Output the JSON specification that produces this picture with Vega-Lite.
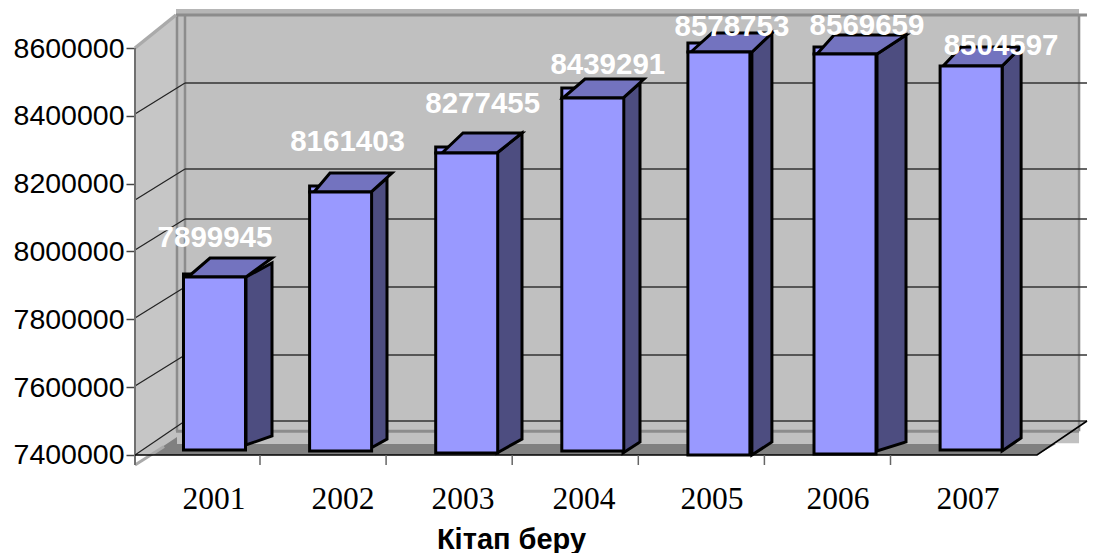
{
"$schema":"https://vega.github.io/schema/vega-lite/v6.json",
"width":1094,"height":553,"autosize":"none","padding":0,"background":"white",
"config":{"view":{"stroke":null}},
"datasets":{
"chrome":[{"part":"frame"}],
"grid":[
{"front":8405404,"back":8496804},
{"front":8151842,"back":8243242},
{"front":8004422,"back":8095822},
{"front":7803931,"back":7895331},
{"front":7603440,"back":7694840},
{"front":7400000,"back":7500245}],
"bars":[
{"year":2001,"value":7899945,"bar_top":7924815,"bar_bottom":7414742},
{"year":2002,"value":8161403,"bar_top":8175429,"bar_bottom":7411794},
{"year":2003,"value":8277455,"bar_top":8290417,"bar_bottom":7405897},
{"year":2004,"value":8439291,"bar_top":8452579,"bar_bottom":7411794},
{"year":2005,"value":8578753,"bar_top":8588205,"bar_bottom":7400000},
{"year":2006,"value":8569659,"bar_top":8582308,"bar_bottom":7402948},
{"year":2007,"value":8504597,"bar_top":8546928,"bar_bottom":7414742}]
},
"data":{"name":"bars"},
"layer":[
{"data":{"name":"chrome"},"mark":{"type":"rect","fill":"#c0c0c0"},"encoding":{
"x":{"datum":2000.6947,"type":"quantitative","scale":{"domain":[1999.299,2007.9746],"nice":false,"zero":false,"padding":0}},
"x2":{"datum":2007.856},
"y":{"datum":8697296,"type":"quantitative","scale":{"domain":[7111053,8741524],"nice":false,"zero":false,"padding":0}},
"y2":{"datum":7435000}}},
{"data":{"name":"chrome"},"mark":{"type":"rect","fill":"#b6b6b6"},"encoding":{
"x":{"datum":2000.6947,"type":"quantitative"},"x2":{"datum":2007.856},
"y":{"datum":8715000,"type":"quantitative"},"y2":{"datum":8697296}}},
{"data":{"name":"chrome"},"mark":{"type":"point","filled":true,"fill":"#c6c6c6","opacity":1,"size":4,"shape":"M0 0 L0 -407 L41 -441 L41 -25 Z"},"encoding":{
"x":{"datum":2000.3696,"type":"quantitative"},"y":{"datum":7400000,"type":"quantitative"}}},
{"data":{"name":"chrome"},"mark":{"type":"point","filled":true,"fill":"#c0c0c0","opacity":1,"size":4,"shape":"M0 0 L902 0 L952 -34 L50 -34 Z"},"encoding":{
"x":{"datum":2000.3696,"type":"quantitative"},"y":{"datum":7400000,"type":"quantitative"}}},
{"data":{"name":"chrome"},"mark":{"type":"point","filled":true,"fill":"#808080","opacity":1,"size":4,"shape":"M15 0 L42 -18 L42 -11 L921 -11 L902 0 Z"},"encoding":{
"x":{"datum":2000.3696,"type":"quantitative"},"y":{"datum":7400000,"type":"quantitative"}}},
{"data":{"name":"chrome"},"mark":{"type":"rule","color":"#8c8c8c","strokeWidth":3},"encoding":{
"x":{"datum":2000.6947,"type":"quantitative"},"x2":{"datum":2007.919},"y":{"datum":8697296,"type":"quantitative"}}},
{"data":{"name":"chrome"},"mark":{"type":"rule","color":"#8c8c8c","strokeWidth":3},"encoding":{
"x":{"datum":2000.6947,"type":"quantitative"},"x2":{"datum":2007.856},"y":{"datum":7470000,"type":"quantitative"}}},
{"data":{"name":"chrome"},"mark":{"type":"rule","color":"#8c8c8c","strokeWidth":2.5},"encoding":{
"x":{"datum":2000.7026,"type":"quantitative"},"y":{"datum":8697296,"type":"quantitative"},"y2":{"datum":7470000}}},
{"data":{"name":"chrome"},"mark":{"type":"rule","color":"#8c8c8c","strokeWidth":2.5},"encoding":{
"x":{"datum":2000.766,"type":"quantitative"},"y":{"datum":8697296,"type":"quantitative"},"y2":{"datum":7500245}}},
{"data":{"name":"chrome"},"mark":{"type":"rule","color":"#8c8c8c","strokeWidth":2.5},"encoding":{
"x":{"datum":2007.856,"type":"quantitative"},"y":{"datum":8697296,"type":"quantitative"},"y2":{"datum":7470000}}},
{"data":{"name":"grid"},"mark":{"type":"rule","color":"#333333","strokeWidth":1.5},"encoding":{
"x":{"datum":2000.766,"type":"quantitative"},"x2":{"datum":2007.919},"y":{"field":"back","type":"quantitative"}}},
{"data":{"name":"grid"},"mark":{"type":"rule","color":"#222222","strokeWidth":1.2},"encoding":{
"x":{"datum":2000.3696,"type":"quantitative"},"x2":{"datum":2000.766},"y":{"field":"front","type":"quantitative"},"y2":{"field":"back"}}},
{"data":{"name":"chrome"},"mark":{"type":"rule","color":"#aaaaaa","strokeWidth":3.5},"encoding":{
"x":{"datum":2000.3696,"type":"quantitative"},"x2":{"datum":2000.6947},"y":{"datum":8600000,"type":"quantitative"},"y2":{"datum":8697296}}},
{"data":{"name":"chrome"},"mark":{"type":"rule","color":"#aaaaaa","strokeWidth":3},"encoding":{
"x":{"datum":2000.3696,"type":"quantitative"},"x2":{"datum":2000.6},"y":{"datum":7370516,"type":"quantitative"},"y2":{"datum":7425000}}},
{"data":{"name":"chrome"},"mark":{"type":"rule","color":"#707070","strokeWidth":2},"encoding":{
"x":{"datum":2000.3696,"type":"quantitative"},"y":{"datum":8600000,"type":"quantitative"},"y2":{"datum":7370516}}},
{"data":{"name":"chrome"},"mark":{"type":"point","filled":false,"fill":null,"stroke":"black","strokeWidth":1.6,"opacity":1,"size":4,"shape":"M0 0 L902 0 L952 -34"},"encoding":{
"x":{"datum":2000.3696,"type":"quantitative"},"y":{"datum":7400000,"type":"quantitative"}}},
{"transform":[{"filter":"datum.year<2007"}],"mark":{"type":"rule","color":"#666666","strokeWidth":1.5,"xOffset":45.5},"encoding":{
"x":{"field":"year","type":"quantitative"},"y":{"datum":7400000,"type":"quantitative"},"y2":{"datum":7370516}}},
{"mark":{"type":"point","filled":true,"fill":"#4d4d80","stroke":"black","strokeWidth":3,"opacity":1,"size":4},"encoding":{
"x":{"field":"year","type":"quantitative"},"y":{"field":"bar_top","type":"quantitative"},
"shape":{"field":"year","type":"nominal","legend":null,"scale":{"domain":[2001,2002,2003,2004,2005,2006,2007],"range":[
"M31.5 0 L57.5 -14 L57.5 159 L31.5 168 Z",
"M30.4 0 L46.4 -14 L46.4 247 L30.4 256 Z",
"M30.3 0 L55.3 -20 L55.3 286 L30.3 300 Z",
"M30.2 0 L47.2 -15 L47.2 344 L30.2 355 Z",
"M33 0 L53 -19 L53 390 L33 403 Z",
"M32 0 L61 -19 L61 388 L32 397 Z",
"M31 0 L50 -19 L50 372 L31 385 Z"]}}}},
{"transform":[{"filter":"datum.year<2007"}],"mark":{"type":"point","filled":true,"fill":"#9999ff","stroke":"black","strokeWidth":3,"opacity":1,"size":4},"encoding":{
"x":{"field":"year","type":"quantitative"},"y":{"field":"bar_top","type":"quantitative"},
"shape":{"field":"year","type":"nominal","legend":null,"scale":{"domain":[2001,2002,2003,2004,2005,2006],"range":[
"M-31 0 L-31 -3 L-18 -3 L-18 0 Z",
"M-31 0 L-31 -6 L-18 -6 L-18 0 Z",
"M-31 0 L-31 -6 L-18 -6 L-18 0 Z",
"M-31 0 L-31 -10 L-18 -10 L-18 0 Z",
"M-31 0 L-31 -9 L-18 -9 L-18 0 Z",
"M-31 0 L-31 -7 L-18 -7 L-18 0 Z"]}}}},
{"mark":{"type":"point","filled":true,"fill":"#7373bf","stroke":"black","strokeWidth":3,"opacity":1,"size":4},"encoding":{
"x":{"field":"year","type":"quantitative"},"y":{"field":"bar_top","type":"quantitative"},
"shape":{"field":"year","type":"nominal","legend":null,"scale":{"domain":[2001,2002,2003,2004,2005,2006,2007],"range":[
"M-26.5 0 L-4.5 -19 L57.5 -19 L31.5 0 Z",
"M-26.6 0 L-10.6 -19 L51.4 -19 L30.4 0 Z",
"M-24.7 0 L-3.7 -20 L55.3 -20 L30.3 0 Z",
"M-29.8 0 L-7.8 -19 L51.2 -19 L30.2 0 Z",
"M-28 0 L-6.9 -19 L53.1 -19 L33.1 0 Z",
"M-28 0 L-11 -19 L61 -19 L32 0 Z",
"M-28 0 L-10 -19 L50 -19 L31 0 Z"]}}}},
{"mark":{"type":"bar","orient":"vertical","size":62,"fill":"#9999ff","stroke":"black","strokeWidth":3},"encoding":{
"x":{"field":"year","type":"quantitative","axis":{"orient":"bottom","offset":-98,"values":[2001,2002,2003,2004,2005,2006,2007],"format":"d","domain":false,"ticks":false,"grid":false,"labels":false,"title":"Кітап беру","titleFont":"Liberation Sans","titleFontWeight":"bold","titleFontSize":29,"titleColor":"black","titleX":511,"titleY":70}},
"y":{"field":"bar_top","type":"quantitative","axis":{"orient":"left","offset":-135,"values":[7400000,7600000,7800000,8000000,8200000,8400000,8600000],"format":"d","domain":false,"grid":false,"tickSize":9,"tickColor":"#444444","tickWidth":1.5,"labelFont":"Liberation Sans","labelFontSize":28.5,"labelColor":"black","labelPadding":2,"title":null}},
"y2":{"field":"bar_bottom"}}},
{"transform":[{"filter":"datum.year==2001"}],"mark":{"type":"text","font":"Liberation Serif","fontSize":31.5,"fill":"black","baseline":"middle","dx":-0.5,"dy":45},"encoding":{"x":{"field":"year","type":"quantitative"},"y":{"datum":7400000,"type":"quantitative"},"text":{"field":"year","type":"quantitative","format":"d"}}},
{"transform":[{"filter":"datum.year==2002"}],"mark":{"type":"text","font":"Liberation Serif","fontSize":31.5,"fill":"black","baseline":"middle","dx":2.4,"dy":45},"encoding":{"x":{"field":"year","type":"quantitative"},"y":{"datum":7400000,"type":"quantitative"},"text":{"field":"year","type":"quantitative","format":"d"}}},
{"transform":[{"filter":"datum.year==2003"}],"mark":{"type":"text","font":"Liberation Serif","fontSize":31.5,"fill":"black","baseline":"middle","dx":-3.7,"dy":45},"encoding":{"x":{"field":"year","type":"quantitative"},"y":{"datum":7400000,"type":"quantitative"},"text":{"field":"year","type":"quantitative","format":"d"}}},
{"transform":[{"filter":"datum.year==2004"}],"mark":{"type":"text","font":"Liberation Serif","fontSize":31.5,"fill":"black","baseline":"middle","dx":-8.8,"dy":45},"encoding":{"x":{"field":"year","type":"quantitative"},"y":{"datum":7400000,"type":"quantitative"},"text":{"field":"year","type":"quantitative","format":"d"}}},
{"transform":[{"filter":"datum.year==2005"}],"mark":{"type":"text","font":"Liberation Serif","fontSize":31.5,"fill":"black","baseline":"middle","dx":-6.9,"dy":45},"encoding":{"x":{"field":"year","type":"quantitative"},"y":{"datum":7400000,"type":"quantitative"},"text":{"field":"year","type":"quantitative","format":"d"}}},
{"transform":[{"filter":"datum.year==2006"}],"mark":{"type":"text","font":"Liberation Serif","fontSize":31.5,"fill":"black","baseline":"middle","dx":-7,"dy":45},"encoding":{"x":{"field":"year","type":"quantitative"},"y":{"datum":7400000,"type":"quantitative"},"text":{"field":"year","type":"quantitative","format":"d"}}},
{"transform":[{"filter":"datum.year==2007"}],"mark":{"type":"text","font":"Liberation Serif","fontSize":31.5,"fill":"black","baseline":"middle","dx":-3,"dy":45},"encoding":{"x":{"field":"year","type":"quantitative"},"y":{"datum":7400000,"type":"quantitative"},"text":{"field":"year","type":"quantitative","format":"d"}}},
{"transform":[{"filter":"datum.year==2001"}],"mark":{"type":"text","font":"Liberation Sans","fontWeight":"bold","fontSize":29.5,"fill":"white","baseline":"middle","dx":0.5,"dy":-47},"encoding":{"x":{"field":"year","type":"quantitative"},"y":{"field":"value","type":"quantitative"},"text":{"field":"value","type":"quantitative","format":"d"}}},
{"transform":[{"filter":"datum.year==2002"}],"mark":{"type":"text","font":"Liberation Sans","fontWeight":"bold","fontSize":29.5,"fill":"white","baseline":"middle","dx":7,"dy":-55},"encoding":{"x":{"field":"year","type":"quantitative"},"y":{"field":"value","type":"quantitative"},"text":{"field":"value","type":"quantitative","format":"d"}}},
{"transform":[{"filter":"datum.year==2003"}],"mark":{"type":"text","font":"Liberation Sans","fontWeight":"bold","fontSize":29.5,"fill":"white","baseline":"middle","dx":16,"dy":-53},"encoding":{"x":{"field":"year","type":"quantitative"},"y":{"field":"value","type":"quantitative"},"text":{"field":"value","type":"quantitative","format":"d"}}},
{"transform":[{"filter":"datum.year==2004"}],"mark":{"type":"text","font":"Liberation Sans","fontWeight":"bold","fontSize":29.5,"fill":"white","baseline":"middle","dx":15,"dy":-37.5},"encoding":{"x":{"field":"year","type":"quantitative"},"y":{"field":"value","type":"quantitative"},"text":{"field":"value","type":"quantitative","format":"d"}}},
{"transform":[{"filter":"datum.year==2005"}],"mark":{"type":"text","font":"Liberation Sans","fontWeight":"bold","fontSize":29.5,"fill":"white","baseline":"middle","dx":13,"dy":-28},"encoding":{"x":{"field":"year","type":"quantitative"},"y":{"field":"value","type":"quantitative"},"text":{"field":"value","type":"quantitative","format":"d"}}},
{"transform":[{"filter":"datum.year==2006"}],"mark":{"type":"text","font":"Liberation Sans","fontWeight":"bold","fontSize":29.5,"fill":"white","baseline":"middle","dx":22,"dy":-32},"encoding":{"x":{"field":"year","type":"quantitative"},"y":{"field":"value","type":"quantitative"},"text":{"field":"value","type":"quantitative","format":"d"}}},
{"transform":[{"filter":"datum.year==2007"}],"mark":{"type":"text","font":"Liberation Sans","fontWeight":"bold","fontSize":29.5,"fill":"white","baseline":"middle","dx":30,"dy":-34},"encoding":{"x":{"field":"year","type":"quantitative"},"y":{"field":"value","type":"quantitative"},"text":{"field":"value","type":"quantitative","format":"d"}}}
],
"resolve":{"scale":{"shape":"independent"}}
}
